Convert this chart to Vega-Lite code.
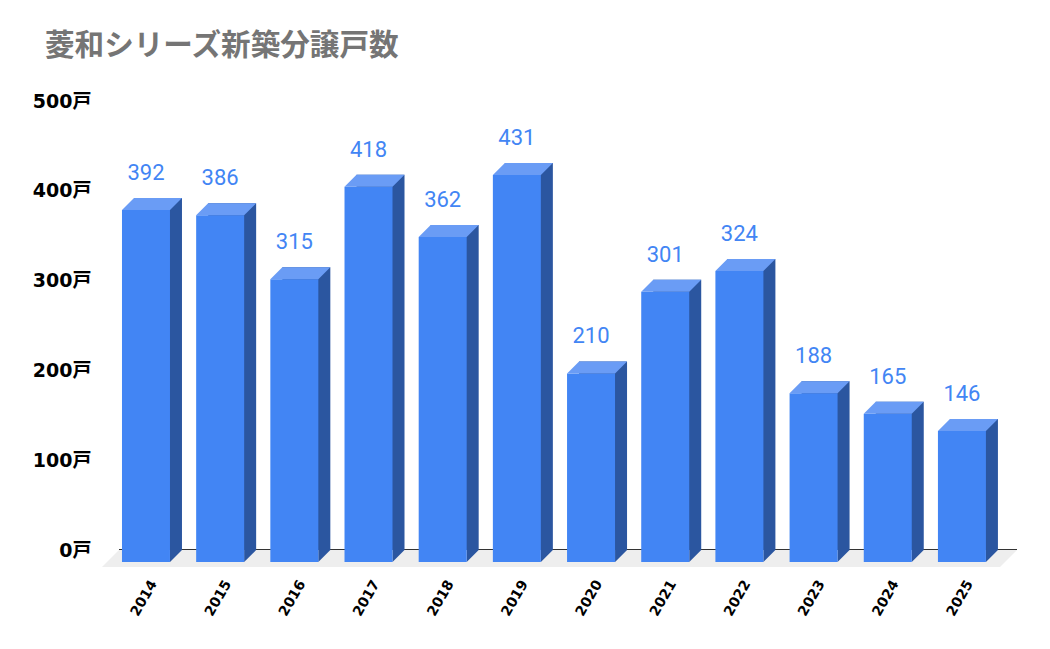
{
  "$schema": "https://vega.github.io/schema/vega-lite/v6.json",
  "width": 898,
  "height": 449,
  "autosize": "none",
  "padding": {"left": 119, "top": 101, "right": 33, "bottom": 99},
  "background": "white",
  "title": {
    "text": "菱和シリーズ新築分譲戸数",
    "anchor": "start",
    "frame": "group",
    "dx": -74,
    "offset": 30,
    "font": "Noto Sans CJK JP",
    "fontSize": 29.6,
    "fontWeight": "bold",
    "color": "#757575"
  },
  "data": {
    "values": [
      {"year": "2014", "units": 392},
      {"year": "2015", "units": 386},
      {"year": "2016", "units": 315},
      {"year": "2017", "units": 418},
      {"year": "2018", "units": 362},
      {"year": "2019", "units": 431},
      {"year": "2020", "units": 210},
      {"year": "2021", "units": 301},
      {"year": "2022", "units": 324},
      {"year": "2023", "units": 188},
      {"year": "2024", "units": 165},
      {"year": "2025", "units": 146}
    ]
  },
  "resolve": {"scale": {"x": "shared", "y": "shared"}},
  "layer": [
    {
      "data": {"values": [{}]},
      "mark": {"type": "point", "shape": "M-39,0L859,0L842,17L-56,17Z", "size": 4, "filled": true, "opacity": 1, "color": "#eeeeee", "strokeWidth": 0},
      "encoding": {
        "x": {"datum": "2014", "type": "nominal"},
        "y": {"datum": 0, "type": "quantitative"}
      }
    },
    {
      "data": {"values": [{}]},
      "mark": {"type": "rule", "color": "#333333", "strokeWidth": 1, "yOffset": -0.5},
      "encoding": {
        "y": {"datum": 0, "type": "quantitative"}
      }
    },
    {
      "mark": {"type": "bar", "color": "#2b56a0"},
      "encoding": {
        "x": {
          "field": "year",
          "type": "nominal",
          "scale": {"paddingInner": 0.353, "paddingOuter": 0.2295, "align": 0.44},
          "axis": {
            "title": null,
            "domain": false,
            "ticks": false,
            "labelAngle": -60,
            "labelAlign": "right",
            "labelBaseline": "middle",
            "labelFont": "DejaVu Sans",
            "labelFontSize": 14,
            "labelFontWeight": "bold",
            "labelColor": "#000000",
            "labelPadding": 31,
            "labelOffset": -4
          }
        },
        "y": {
          "field": "units",
          "type": "quantitative",
          "scale": {"domain": [0, 500], "nice": false},
          "axis": {
            "title": null,
            "values": [0, 100, 200, 300, 400, 500],
            "labelExpr": "datum.value + '戸'",
            "labelFont": "DejaVu Sans, Noto Sans CJK JP",
            "labelFontSize": 19,
            "labelFontWeight": "bold",
            "labelColor": "#000000",
            "labelPadding": 28,
            "domain": false,
            "ticks": false,
            "gridColor": "#cccccc"
          }
        }
      }
    },
    {
      "mark": {"type": "point", "shape": "M12,0L24,0L12,12Z", "size": 4, "filled": true, "opacity": 1, "color": "#2b56a0", "strokeWidth": 0},
      "encoding": {
        "x": {"field": "year", "type": "nominal"},
        "y": {"datum": 0, "type": "quantitative"}
      }
    },
    {
      "mark": {"type": "bar", "color": "#4285f4", "xOffset": -12, "yOffset": 12, "y2Offset": 12},
      "encoding": {
        "x": {"field": "year", "type": "nominal"},
        "y": {"field": "units", "type": "quantitative"}
      }
    },
    {
      "mark": {"type": "point", "shape": "M-36,12L12,12L24,0L-24,0Z", "size": 4, "filled": true, "opacity": 1, "color": "#6a9cf5", "strokeWidth": 0},
      "encoding": {
        "x": {"field": "year", "type": "nominal"},
        "y": {"field": "units", "type": "quantitative"}
      }
    },
    {
      "mark": {"type": "text", "font": "Roboto", "fontSize": 22, "color": "#4285f4", "xOffset": -12, "dy": -18, "baseline": "alphabetic", "align": "center"},
      "encoding": {
        "x": {"field": "year", "type": "nominal"},
        "y": {"field": "units", "type": "quantitative"},
        "text": {"field": "units", "type": "quantitative"}
      }
    }
  ],
  "config": {
    "view": {"stroke": null}
  }
}
